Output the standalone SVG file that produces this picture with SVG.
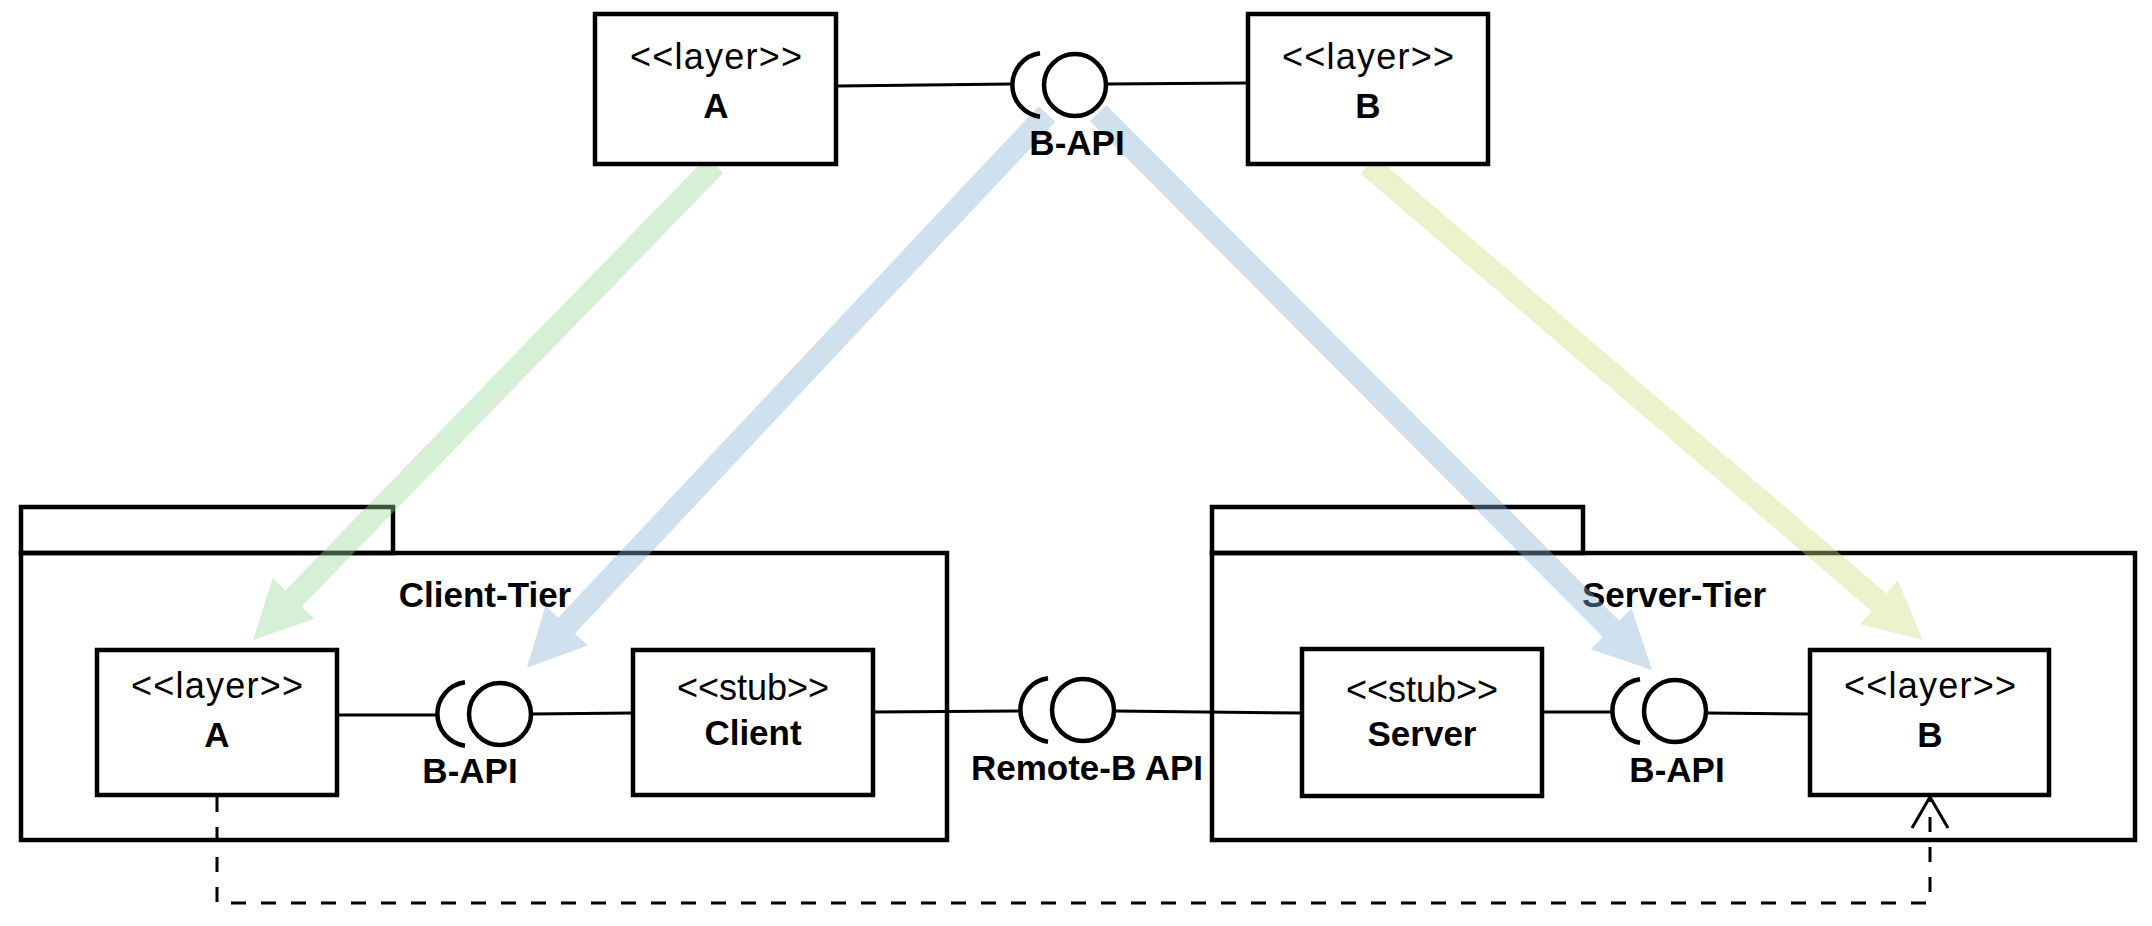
<svg xmlns="http://www.w3.org/2000/svg" width="2152" height="926" viewBox="0 0 2152 926">
<style>
.box{fill:#ffffff;stroke:#000;stroke-width:4.5}
.pkg{fill:none;stroke:#000;stroke-width:4.5}
.ln{fill:none;stroke:#000;stroke-width:3}
.dash{fill:none;stroke:#000;stroke-width:3;stroke-dasharray:15 15}
.st{font-family:"Liberation Sans",Arial,sans-serif;font-size:36px;fill:#000;text-anchor:middle}
.bd{font-family:"Liberation Sans",Arial,sans-serif;font-size:35px;font-weight:bold;fill:#000;text-anchor:middle}
.ic{fill:#fff;stroke:#000;stroke-width:4.5}
.sk{fill:none;stroke:#000;stroke-width:4.5}
.ga{fill:#96d996;opacity:0.4}
.ba{fill:#87b1d7;opacity:0.4}
.ya{fill:#d4de7f;opacity:0.4}
</style>
<defs>
<g id="iface">
<path class="sk" d="M -35 -31.7 A 32 32 0 0 0 -35 31.7"/>
<circle class="ic" cx="0" cy="0" r="31"/>
</g>
</defs>
<rect width="2152" height="926" fill="#fff"/>

<g id="client-tier">
<rect class="pkg" x="21" y="507" width="372" height="46"/>
<rect class="pkg" x="21" y="553" width="926" height="287"/>
<text class="bd" x="485" y="607">Client-Tier</text>
</g>
<g id="server-tier">
<rect class="pkg" x="1212" y="507" width="371" height="46"/>
<rect class="pkg" x="1212" y="553" width="923" height="287"/>
<text class="bd" x="1674" y="607">Server-Tier</text>
</g>

<g id="connectors">
<path class="ln" d="M837 86 L1012 84"/>
<path class="ln" d="M1106 84 L1248 83"/>
<path class="ln" d="M337 715 L437 715"/>
<path class="ln" d="M531 714 L633 713"/>
<path class="ln" d="M873 712 L1020 711"/>
<path class="ln" d="M1114 711 L1302 713"/>
<path class="ln" d="M1542 712 L1612 712"/>
<path class="ln" d="M1706 713 L1810 714"/>
<path class="dash" d="M217 797 V903 H1930 V800"/>
<path class="ln" d="M1912 828 L1930 797 L1948 828"/>
<polygon class="ga" transform="translate(715,165) rotate(134.2)" points="0,-11.5 604.6,-11.5 604.6,-29 662.6,0 604.6,29 604.6,11.5 0,11.5"/>
<polygon class="ba" transform="translate(1047,114) rotate(133.2)" points="0,-11.5 701.8,-11.5 701.8,-29 759.8,0 701.8,29 701.8,11.5 0,11.5"/>
<polygon class="ba" transform="translate(1098,113) rotate(45.15)" points="0,-11.5 727.6,-11.5 727.6,-29 785.6,0 727.6,29 727.6,11.5 0,11.5"/>
<polygon class="ya" transform="translate(1368,165) rotate(40.56)" points="0,-11.5 672.5,-11.5 672.5,-29 730.5,0 672.5,29 672.5,11.5 0,11.5"/>
</g>

<g id="top-layer-a">
<rect class="box" x="595" y="14" width="241" height="150"/>
<text class="st" x="716" y="69" textLength="172" lengthAdjust="spacing">&lt;&lt;layer&gt;&gt;</text>
<text class="bd" x="716" y="118">A</text>
</g>
<g id="top-layer-b">
<rect class="box" x="1248" y="14" width="240" height="150"/>
<text class="st" x="1368" y="69" textLength="172" lengthAdjust="spacing">&lt;&lt;layer&gt;&gt;</text>
<text class="bd" x="1368" y="118">B</text>
</g>
<g id="top-b-api">
<use href="#iface" x="1075" y="85"/>
<text class="bd" x="1077" y="155">B-API</text>
</g>

<g id="client-layer-a">
<rect class="box" x="97" y="650" width="240" height="145"/>
<text class="st" x="217" y="698" textLength="172" lengthAdjust="spacing">&lt;&lt;layer&gt;&gt;</text>
<text class="bd" x="217" y="747">A</text>
</g>
<g id="client-b-api">
<use href="#iface" x="500" y="714"/>
<text class="bd" x="470" y="783">B-API</text>
</g>
<g id="client-stub">
<rect class="box" x="633" y="650" width="240" height="145"/>
<text class="st" x="753" y="700">&lt;&lt;stub&gt;&gt;</text>
<text class="bd" x="753" y="745">Client</text>
</g>
<g id="remote-b-api">
<use href="#iface" x="1083" y="710"/>
<text class="bd" x="1087" y="780">Remote-B API</text>
</g>
<g id="server-stub">
<rect class="box" x="1302" y="649" width="240" height="147"/>
<text class="st" x="1422" y="702">&lt;&lt;stub&gt;&gt;</text>
<text class="bd" x="1422" y="746">Server</text>
</g>
<g id="server-b-api">
<use href="#iface" x="1675" y="711"/>
<text class="bd" x="1677" y="782">B-API</text>
</g>
<g id="server-layer-b">
<rect class="box" x="1810" y="650" width="239" height="145"/>
<text class="st" x="1930" y="698" textLength="172" lengthAdjust="spacing">&lt;&lt;layer&gt;&gt;</text>
<text class="bd" x="1930" y="747">B</text>
</g>
</svg>
